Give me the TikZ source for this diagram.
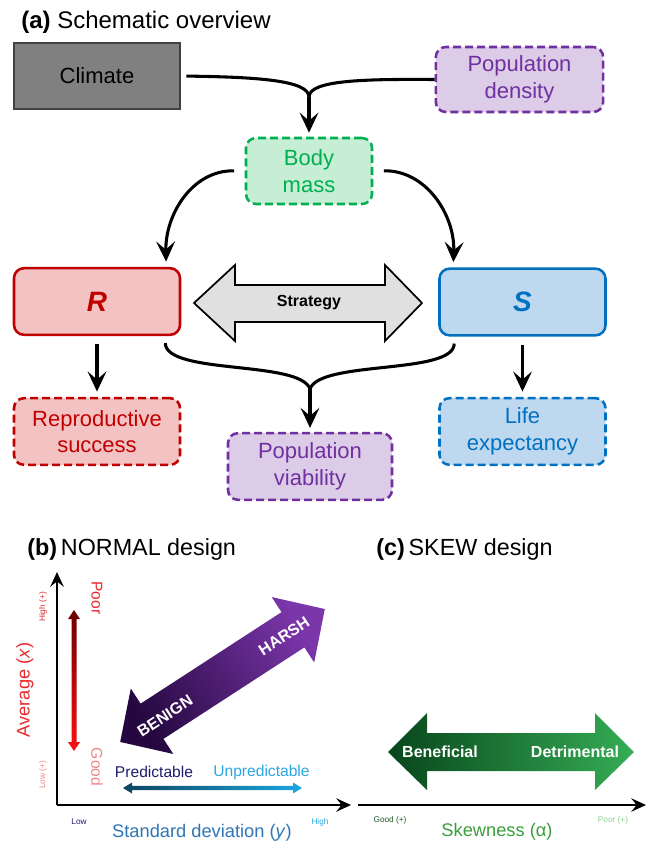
\documentclass[tikz,border=0pt]{standalone}
\usepackage{fontspec}
\setmainfont{Liberation Sans}
\usetikzlibrary{arrows.meta,calc}
\newcommand\fsz[2]{\fontsize{#1}{#2}\selectfont}
\definecolor{purp}{HTML}{7030A0}
\definecolor{purpfill}{HTML}{DCCCE8}
\definecolor{grn}{HTML}{00B050}
\definecolor{grnfill}{HTML}{C6EED5}
\definecolor{redb}{HTML}{C00000}
\definecolor{redfill}{HTML}{F3C3C3}
\definecolor{blu}{HTML}{0070C0}
\definecolor{blufill}{HTML}{BED8EF}
\definecolor{purpdark}{HTML}{250840}
\definecolor{purplight}{HTML}{7B36AA}
\definecolor{reddark}{HTML}{6A0000}
\definecolor{redbright}{HTML}{FF1010}
\definecolor{bludark}{HTML}{0C4560}
\definecolor{blulight}{HTML}{1CA8E2}
\definecolor{grndark}{HTML}{08461C}
\definecolor{grnlight}{HTML}{35AD55}
\definecolor{navy}{HTML}{1C1C6C}
\definecolor{skyblu}{HTML}{2CA6E0}
\definecolor{sdblu}{HTML}{2E75B6}
\definecolor{avgred}{HTML}{E8282B}
\definecolor{pinkred}{HTML}{F08585}
\definecolor{skewgrn}{HTML}{3A9E3A}
\definecolor{darkgrn}{HTML}{1F5A2A}
\definecolor{lightgrn}{HTML}{90D090}
\begin{document}
\begin{tikzpicture}[x=0.75pt,y=-0.75pt,
  box/.style={rectangle, rounded corners=7.5pt, line width=1.9pt, align=center,
    font=\fsz{16.5pt}{20pt}, inner sep=0pt, minimum width=124.5pt, minimum height=50pt},
  dbox/.style={box, dash pattern=on 6pt off 3pt},
  ln/.style={line width=2.3pt},
  conn/.style={line width=2.3pt, -{Stealth[length=15pt,width=14pt,inset=6pt]}},
  axis/.style={line width=2pt, -{Stealth[length=11pt,width=10pt,inset=4pt]}},
  ttl/.style={font=\fsz{18pt}{21pt}, anchor=base west, inner sep=0pt},
  small/.style={font=\fsz{6.2pt}{8pt}, inner sep=0pt},
  lab/.style={font=\fsz{13.7pt}{16pt}, inner sep=0pt},
  mid/.style={font=\fsz{11.7pt}{14pt}, inner sep=0pt},
  wht/.style={font=\bfseries\fsz{12pt}{14pt}, text=white, inner sep=0pt}]
\useasboundingbox (0,0) rectangle (646,844);
% ---------- (a)
\node[ttl] (ta) at (21,28) {\textbf{(a)}\ Schematic overview};
\node[box, rounded corners=0pt, draw=black!75, fill=black!50, line width=1.5pt] (climate) at (97,76) {Climate};
\node[dbox, draw=purp, fill=purpfill, text=purp, minimum width=125.5pt, minimum height=48.75pt] (popd) at (519.5,79.5) {Population\\density};
\node[dbox, draw=grn, fill=grnfill, text=grn, minimum width=94.5pt, minimum height=49.5pt] (body) at (309,171) {Body\\mass};
\node[box, draw=redb, fill=redfill, text=redb, font=\bfseries\itshape\fsz{21pt}{24pt}] (R) at (97,301.5) {R};
\node[box, draw=blu, fill=blufill, text=blu, font=\bfseries\itshape\fsz{21pt}{24pt}] (S) at (522.5,302) {S};
\node[dbox, draw=redb, fill=redfill, text=redb] (rep) at (97,431.5) {Reproductive\\success};
\node[dbox, draw=purp, fill=purpfill, text=purp, minimum width=123pt] (viab) at (310,466.5) {Population\\viability};
\node[dbox, draw=blu, fill=blufill, text=blu] (life) at (522.5,431.5) {Life\\expectancy};
% strategy arrow
\draw[line width=1.3pt, fill=black!12] (194,303) -- (235,265) -- (235,285) -- (385,285) -- (385,265)
  -- (422,303) -- (385,341) -- (385,322) -- (235,322) -- (235,341) -- cycle;
\node[font=\bfseries\fsz{12pt}{14pt}] (strat) at (309,303) {Strategy};
% connectors
\coordinate (m1) at (309,97);
\draw[ln, shorten <=4pt] (climate.east) .. controls (255,77) and (309,80) .. (m1);
\draw[ln] (popd.west) .. controls (365,79) and (309,80) .. (m1);
\draw[conn, shorten >=3pt] (m1) -- (body.north);
\coordinate (rtop) at ($(R.north east)+(-15,0)$);
\coordinate (stop) at ($(S.north west)+(15,0)$);
\draw[conn, shorten <=8pt, shorten >=4pt] (body.west) .. controls (192,170) and (165,215) .. (rtop);
\draw[conn, shorten <=8pt, shorten >=4pt] (body.east) .. controls (426,170) and (455,215) .. (stop);
\draw[conn, shorten <=6pt, shorten >=4pt] (R.south) -- (rep.north);
\draw[conn, shorten <=6pt, shorten >=4pt] (S.south) -- (life.north);
\coordinate (rb) at ($(R.south east)+(-16,7)$);
\coordinate (sb) at ($(S.south west)+(16,7)$);
\coordinate (m2) at (310,389);
\draw[ln] (rb) .. controls (166,375) and (300,360) .. (m2);
\draw[ln] (sb) .. controls (454,375) and (320,360) .. (m2);
\draw[conn, shorten >=3pt] (m2) -- (viab.north);
% ---------- (b)
\node[ttl, font=\fsz{17.5pt}{21pt}] (tb) at (27,555) {\textbf{(b)}\,NORMAL design};
\coordinate (org) at (57,805);
\coordinate (ytip) at (57,572);
\coordinate (xtip) at (351,805);
\draw[axis] (org) -- (ytip);
\draw[axis] (org) -- (xtip);
\node[lab, text=avgred, rotate=90] (avg) at (25,690) {Average (\textit{x})};
\node[small, text=avgred, rotate=90] (hi) at (43,607) {High (+)};
\node[small, text=pinkred, rotate=90] (lo) at (43,775) {Low (+)};
\node[mid, text=avgred, rotate=-90] (poor) at (97,598) {Poor};
\node[mid, text=pinkred, rotate=-90] (good) at (97,767) {Good};
\shade[top color=reddark, bottom color=redbright] (74,610) -- (80,619) -- (76.5,619) -- (76.5,742)
  -- (80,742) -- (74,751) -- (68,742) -- (71.5,742) -- (71.5,619) -- (68,619) -- cycle;
\begin{scope}[shift={(222.5,675.5)}, rotate=33]
\shade[top color=purpdark, bottom color=purplight, shading angle=123]
  (-122,0) -- (-84,-39) -- (-84,-21) -- (84,-21) -- (84,-39) -- (122,0)
  -- (84,39) -- (84,21) -- (-84,21) -- (-84,39) -- cycle;
\end{scope}
\node[wht, rotate=33] (benign) at (165,716) {BENIGN};
\node[wht, rotate=33] (harsh) at (284,636) {HARSH};
\node[mid, text=navy] (pred) at (154,772) {Predictable};
\node[mid, text=skyblu] (unpred) at (261.5,772) {Unpredictable};
\shade[left color=bludark, right color=blulight] (123,788) -- (132,782.5) -- (132,785.8) -- (293,785.8)
  -- (293,782.5) -- (302,788) -- (293,793.5) -- (293,790.2) -- (132,790.2) -- (132,793.5) -- cycle;
\node[small, text=navy] (lowx) at (79,822) {Low};
\node[small, text=skyblu] (highx) at (320,822) {High};
\node[lab, text=sdblu] (sd) at (202,833) {Standard deviation (\textit{y})};
% ---------- (c)
\node[ttl, font=\fsz{17.5pt}{21pt}] (tc) at (376,555) {\textbf{(c)}\,SKEW design};
\coordinate (sorg) at (358,805);
\coordinate (stip) at (646,805);
\draw[axis] (sorg) -- (stip);
\shade[left color=grndark, right color=grnlight] (388,752) -- (427,713) -- (427,733) -- (595,733)
  -- (595,713) -- (634,752) -- (595,790) -- (595,771) -- (427,771) -- (427,790) -- cycle;
\node[wht] (benef) at (440,752) {Beneficial};
\node[wht] (detr) at (575,752) {Detrimental};
\node[small, text=darkgrn] (goodp) at (390,820) {Good (+)};
\node[small, text=lightgrn] (poorp) at (613,820) {Poor (+)};
\node[lab, text=skewgrn] (skew) at (497,832) {Skewness (α)};
\end{tikzpicture}
\end{document}
